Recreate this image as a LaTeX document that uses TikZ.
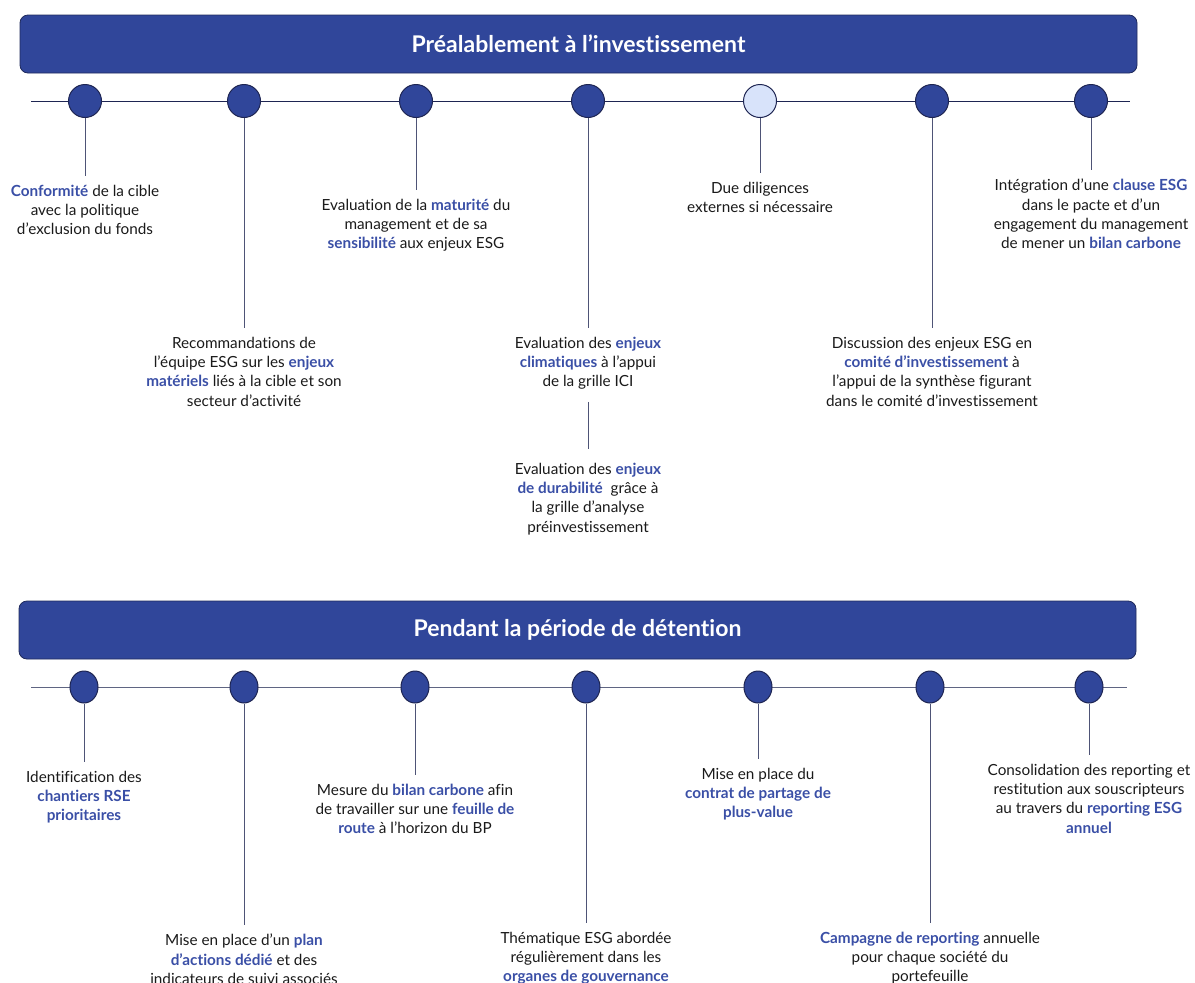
\documentclass[tikz,border=0pt]{standalone}
\usepackage{fontspec}
\setmainfont{Lato}[Ligatures={NoCommon}]
\usetikzlibrary{shapes.geometric}
\definecolor{bannerblue}{HTML}{30469A}
\definecolor{bannerline}{HTML}{1F2A5C}
\definecolor{hlblue}{HTML}{3A4FA6}
\definecolor{navy}{HTML}{1E2552}
\definecolor{greyline}{HTML}{5F6582}
\definecolor{stemcol}{HTML}{4E5476}
\definecolor{textdark}{HTML}{1A1A1A}
\definecolor{paleblue}{HTML}{D8E3FA}
\newcommand{\hlb}[1]{{\bfseries\color{hlblue}#1}}
\tikzset{
  banner/.style={draw=bannerline, line width=0.8pt, fill=bannerblue, rounded corners=8pt,
    minimum width=1117pt, minimum height=58pt, inner sep=0pt, text=white,
    font=\fontsize{23}{27}\selectfont\bfseries},
  dot/.style={circle, draw=navy, line width=1pt, fill=bannerblue, minimum size=33pt, inner sep=0pt},
  lightdot/.style={dot, fill=paleblue},
  edot/.style={ellipse, draw=navy, line width=1pt, fill=bannerblue, minimum width=28pt, minimum height=32pt, inner sep=0pt},
  txt/.style={align=center, anchor=north, inner sep=0pt, text=textdark,
    font=\fontsize{15.3}{19.2}\selectfont},
  stem/.style={draw=stemcol, line width=1pt, shorten >=9pt},
  tline/.style={draw=navy, line width=1pt},
  bline/.style={draw=greyline, line width=1pt}
}
\begin{document}
\begin{tikzpicture}[x=1pt,y=-1pt]
\useasboundingbox (0,0) rectangle (1195,983);
% ---------- top section
\node[banner] (b1) at (578.5,44) {Préalablement à l’investissement};
\coordinate (tl) at (31,101);
\coordinate (tr) at (1130,101);
\draw[tline] (tl) -- (tr);
\node[dot] (c1) at (85,101) {};
\node[dot] (c2) at (244,101) {};
\node[dot] (c3) at (416,101) {};
\node[dot] (c4) at (588,101) {};
\node[lightdot] (c5) at (760,101) {};
\node[dot] (c6) at (932,101) {};
\node[dot] (c7) at (1091,101) {};

\node[txt] (t1) at (85,185) {\hlb{Conformité} de la cible\\avec la politique\\d’exclusion du fonds};
\node[txt] (t2) at (244,337) {Recommandations de\\l’équipe ESG sur les \hlb{enjeux}\\\hlb{matériels} liés à la cible et son\\secteur d’activité};
\node[txt] (t3) at (416,199) {Evaluation de la \hlb{maturité} du\\management et de sa\\\hlb{sensibilité} aux enjeux ESG};
\node[txt] (t4a) at (588,337) {Evaluation des \hlb{enjeux}\\\hlb{climatiques} à l’appui\\de la grille ICI};
\node[txt] (t4b) at (588,463) {Evaluation des \hlb{enjeux}\\\hlb{de durabilité}\ \ grâce à\\la grille d’analyse\\préinvestissement};
\node[txt] (t5) at (760,182) {Due diligences\\externes si nécessaire};
\node[txt] (t6) at (932,337) {Discussion des enjeux ESG en\\\hlb{comité d’investissement} à\\l’appui de la synthèse figurant\\dans le comité d’investissement};
\node[txt] (t7) at (1091,179) {Intégration d’une \hlb{clause ESG}\\dans le pacte et d’un\\engagement du management\\de mener un \hlb{bilan carbone}};

\draw[stem] (c1.south) -- (t1.north);
\draw[stem] (c2.south) -- (t2.north);
\draw[stem] (c3.south) -- (t3.north);
\draw[stem] (c4.south) -- (t4a.north);
\draw[stem, shorten <=12pt, shorten >=14pt] (t4a.south) -- (t4b.north);
\draw[stem] (c5.south) -- (t5.north);
\draw[stem] (c6.south) -- (t6.north);
\draw[stem] (c7.south) -- (t7.north);

% ---------- bottom section
\node[banner] (b2) at (577.5,630) {\raisebox{-1.5pt}{Pendant la période de détention}};
\coordinate (bl) at (31,687);
\coordinate (br) at (1127,687);
\draw[bline] (bl) -- (br);
\node[edot] (d1) at (84,687) {};
\node[edot] (d2) at (244,687) {};
\node[edot] (d3) at (415,687) {};
\node[edot] (d4) at (586,687) {};
\node[edot] (d5) at (758,687) {};
\node[edot] (d6) at (930,687) {};
\node[edot] (d7) at (1089,687) {};

\node[txt] (u1) at (84,771) {Identification des\\\hlb{chantiers RSE}\\\hlb{prioritaires}};
\node[txt] (u2) at (244,934) {Mise en place d’un \hlb{plan}\\\hlb{d’actions dédié} et des\\indicateurs de suivi associés};
\node[txt] (u3) at (415,784) {Mesure du \hlb{bilan carbone} afin\\de travailler sur une \hlb{feuille de}\\\hlb{route} à l'horizon du BP};
\node[txt] (u4) at (586,932) {Thématique ESG abordée\\régulièrement dans les\\\hlb{organes de gouvernance}};
\node[txt] (u5) at (758,768) {Mise en place du\\\hlb{contrat de partage de}\\\hlb{plus-value}};
\node[txt] (u6) at (930,932) {\hlb{Campagne de reporting} annuelle\\pour chaque société du\\portefeuille};
\node[txt] (u7) at (1089,764) {Consolidation des reporting et\\restitution aux souscripteurs\\au travers du \hlb{reporting ESG}\\\hlb{annuel}};

\draw[stem] (d1.south) -- (u1.north);
\draw[stem] (d2.south) -- (u2.north);
\draw[stem] (d3.south) -- (u3.north);
\draw[stem] (d4.south) -- (u4.north);
\draw[stem] (d5.south) -- (u5.north);
\draw[stem] (d6.south) -- (u6.north);
\draw[stem] (d7.south) -- (u7.north);
\end{tikzpicture}
\end{document}
